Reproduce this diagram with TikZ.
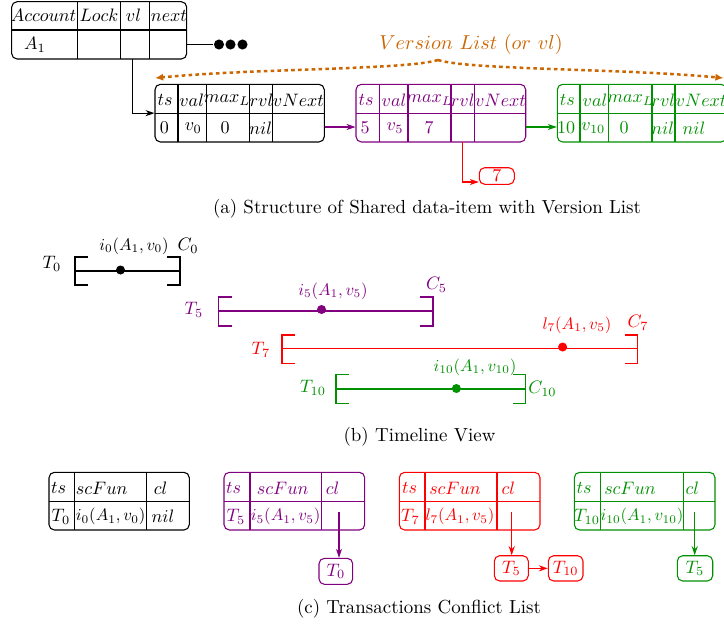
\documentclass[tikz,border=0pt]{standalone}
\usetikzlibrary{arrows.meta,fit}
\definecolor{cvio}{RGB}{128,0,128}
\definecolor{cgrn}{RGB}{0,145,0}
\definecolor{corg}{RGB}{204,102,0}
\begin{document}
\begin{tikzpicture}[x=0.555pt,y=-0.555pt,line width=0.6pt,
  tbox/.style={draw,rounded corners=3pt,inner sep=0pt},
  ct/.style={inner sep=0pt},
  fnl/.style={scale=0.93},
  capn/.style={scale=1.05},
  arr/.style={-{Stealth[length=5pt,width=3.4pt]}},
  dotn/.style={circle,fill,inner sep=0pt,minimum size=5.6pt},
  tdot/.style={circle,fill,inner sep=0pt,minimum size=5pt},
  vlarrow/.style={corg,line width=1.4pt,dash pattern=on 2pt off 1.8pt,-{Latex[length=4.5pt,width=4pt]}}]
\useasboundingbox (0,0) rectangle (724,629);

% ---------------- (a) ----------------
\node[tbox,fit={(11.7,1.7)(186.7,59)}] (acct) {};
\draw (11.7,30) -- (186.7,30);
\foreach \x in {77.3,120.7,149.3} \draw (\x,1.7) -- (\x,59);
\node[ct] (hacc) at (43.5,15.7) {$Account$};
\node[ct] (hlock) at (99,15.7) {$Lock$};
\node[ct] (hvl) at (133.5,15.7) {$vl$};
\node[ct] (hnext) at (169,15.7) {$next$};
\node[ct] (va1) at (35,45) {$A_1$};

\node[dotn] (d1) at (219,44.5) {};
\node[dotn] (d2) at (230.5,44.5) {};
\node[dotn] (d3) at (242.5,44.5) {};
\draw (acct.east |- d1) -- (d1);

% version boxes
\node[tbox,fit={(155,84.3)(324.3,142)}] (vb1) {};
\draw (155,113.3) -- (324.3,113.3);
\foreach \x in {178,206.7,249.7,272.7} \draw (\x,84.3) -- (\x,142);
\node[ct] (a1) at (165,100) {$ts$};
\node[ct] (a2) at (191.7,100) {$val$};
\node[ct] (a3) at (227,100) {$max_L$};
\node[ct] (a4) at (261.5,100) {$rvl$};
\node[ct] (a5) at (298.5,100) {$vNext$};
\node[ct] (a6) at (164.3,128) {$0$};
\node[ct] (a7) at (193.3,128) {$v_0$};
\node[ct] (a8) at (225,128) {$0$};
\node[ct] (a9) at (260.7,128) {$nil$};

\begin{scope}[cvio]
\node[tbox,fit={(356,84.3)(525.7,142)}] (vb2) {};
\draw (356,113.3) -- (525.7,113.3);
\foreach \x in {379.3,408,451,474.3} \draw (\x,84.3) -- (\x,142);
\node[ct] (b1) at (366,100) {$ts$};
\node[ct] (b2) at (394,100) {$val$};
\node[ct] (b3) at (429.5,100) {$max_L$};
\node[ct] (b4) at (462.7,100) {$rvl$};
\node[ct] (b5) at (500.5,100) {$vNext$};
\node[ct] (b6) at (365,128) {$5$};
\node[ct] (b7) at (395,128) {$v_5$};
\node[ct] (b8) at (429,128) {$7$};
\end{scope}

\begin{scope}[cgrn]
\node[tbox,fit={(557.3,84.3)(726.5,142)}] (vb3) {};
\draw (557.3,113.3) -- (726.5,113.3);
\foreach \x in {580,608.7,652,675} \draw (\x,84.3) -- (\x,142);
\node[ct] (c1) at (567.3,100) {$ts$};
\node[ct] (c2) at (595,100) {$val$};
\node[ct] (c3) at (630.5,100) {$max_L$};
\node[ct] (c4) at (663.3,100) {$rvl$};
\node[ct] (c5) at (701,100) {$vNext$};
\node[ct] (c6) at (566,128) {$10$};
\node[ct] (c7) at (593.3,128) {$v_{10}$};
\node[ct] (c8) at (624,128) {$0$};
\node[ct] (c9) at (662.7,128) {$nil$};
\node[ct] (c10) at (694,128) {$nil$};
\end{scope}

\coordinate (vlout) at (132.3,59);
\draw[arr] (vlout) |- (vb1.west);
\coordinate (r1) at (0,127);
\draw[arr,cvio] (vb1.east |- r1) -- (vb2.west |- r1);
\draw[arr,cgrn] (vb2.east |- r1) -- (vb3.west |- r1);

\node[tbox,red,fit={(479.3,167.7)(514.3,184.3)}] (seven) {};
\node[ct,red] (seventxt) at (seven) {$7$};
\coordinate (rvlout) at (462.7,142);
\coordinate (r7) at (0,182);
\draw[arr,red] (rvlout) |- (seven.west |- r7);

\coordinate (peak) at (438,60);
\coordinate (vlL) at (155,78);
\coordinate (vlR) at (723.5,78);
\draw[vlarrow] (peak) .. controls (405,70) and (260,68) .. (vlL);
\draw[vlarrow] (peak) .. controls (470,70) and (615,68) .. (vlR);
\node[text=corg,scale=1.12] (vltext) at (471,44) {$Version\ List\ (or\ vl)$};

\node[capn] (capa) at (427,209) {(a) Structure of Shared data-item with Version List};

% ---------------- (b) ----------------
\draw (88,257) -- (75,257) -- (75,285) -- (88,285);
\draw (75,271) -- (180,271);
\draw (167,257) -- (180,257) -- (180,285) -- (167,285);
\node[tdot] (dt0) at (120.5,270) {};
\node (lt0) at (52,264) {$T_0$};
\node[fnl] (li0) at (134,246) {$i_0(A_1,v_0)$};
\node (lc0) at (188,246) {$C_0$};

\begin{scope}[cvio]
\draw (231.5,297) -- (218.5,297) -- (218.5,326) -- (231.5,326);
\draw (218.5,311) -- (433,311);
\draw (420,297) -- (433,297) -- (433,326) -- (420,326);
\node[tdot] (dt5) at (321.5,309.5) {};
\node (lt5) at (194,310) {$T_5$};
\node[fnl] (li5) at (333,291) {$i_5(A_1,v_5)$};
\node (lc5) at (436.5,285) {$C_5$};
\end{scope}

\begin{scope}[red]
\draw (295,335) -- (282,335) -- (282,363.5) -- (295,363.5);
\draw (282,348.5) -- (637.5,348.5);
\draw (624.5,335) -- (637.5,335) -- (637.5,363.5) -- (624.5,363.5);
\node[tdot] (dt7) at (562.6,347) {};
\node (lt7) at (261,350) {$T_7$};
\node[fnl] (ll7) at (577,325) {$l_7(A_1,v_5)$};
\node (lc7) at (638,323) {$C_7$};
\end{scope}

\begin{scope}[cgrn]
\draw (349,374.5) -- (336,374.5) -- (336,403.5) -- (349,403.5);
\draw (336,389) -- (525.6,389);
\draw (512.6,374.5) -- (525.6,374.5) -- (525.6,403.5) -- (512.6,403.5);
\node[tdot] (dt10) at (456.4,388.5) {};
\node (lt10) at (313,388) {$T_{10}$};
\node[fnl] (li10) at (475,367) {$i_{10}(A_1,v_{10})$};
\node (lc10) at (542.5,389) {$C_{10}$};
\end{scope}

\node[capn] (capb) at (419.5,437) {(b) Timeline View};

% ---------------- (c) ----------------
\node[tbox,fit={(49,472.3)(189.3,530)}] (tc0) {};
\draw (49,501.3) -- (189.3,501.3);
\foreach \x in {74.3,146.7} \draw (\x,472.3) -- (\x,530);
\node[ct] (e1) at (58.5,488.3) {$ts$};
\node[ct] (e2) at (101.7,488.3) {$scFun$};
\node[ct] (e3) at (160.7,488.3) {$cl$};
\node[ct] (e4) at (61,516.7) {$T_0$};
\node[ct,fnl] (e5) at (110.7,516.7) {$i_0(A_1,v_0)$};
\node[ct] (e6) at (163,516.7) {$nil$};

\begin{scope}[cvio]
\node[tbox,fit={(224,472.3)(364.7,530)}] (tc5) {};
\draw (224,501.3) -- (364.7,501.3);
\foreach \x in {250,321.7} \draw (\x,472.3) -- (\x,530);
\node[ct] (f1) at (233.5,488.3) {$ts$};
\node[ct] (f2) at (282.7,488.3) {$scFun$};
\node[ct] (f3) at (332.7,488.3) {$cl$};
\node[ct] (f4) at (236,516.7) {$T_5$};
\node[ct,fnl] (f5) at (285.7,516.7) {$i_5(A_1,v_5)$};
\node[tbox,fit={(319,558.3)(352.7,584.3)}] (k50) {};
\node[ct] (k50t) at (k50) {$T_0$};
\coordinate (cl5) at (339,511.7);
\draw[arr] (cl5) -- (cl5 |- k50.north);
\end{scope}

\begin{scope}[red]
\node[tbox,fit={(399.3,472.3)(540,530)}] (tc7) {};
\draw (399.3,501.3) -- (540,501.3);
\foreach \x in {425,497} \draw (\x,472.3) -- (\x,530);
\node[ct] (g1) at (409.5,488.3) {$ts$};
\node[ct] (g2) at (455,488.3) {$scFun$};
\node[ct] (g3) at (508.3,488.3) {$cl$};
\node[ct] (g4) at (410.5,516.7) {$T_7$};
\node[ct,fnl] (g5) at (460,516.7) {$l_7(A_1,v_5)$};
\node[tbox,fit={(494.3,555.7)(528.3,581)}] (k75) {};
\node[ct] (k75t) at (k75) {$T_5$};
\node[tbox,fit={(548.3,555.7)(583,581)}] (k710) {};
\node[ct] (k710t) at (k710) {$T_{10}$};
\coordinate (cl7) at (511.7,511.7);
\draw[arr] (cl7) -- (cl7 |- k75.north);
\draw[arr] (k75.east) -- (k710.west);
\end{scope}

\begin{scope}[cgrn]
\node[tbox,fit={(574.3,472.3)(715,530)}] (tc10) {};
\draw (574.3,501.3) -- (715,501.3);
\foreach \x in {600.3,683.7} \draw (\x,472.3) -- (\x,530);
\node[ct] (h1) at (584,488.3) {$ts$};
\node[ct] (h2) at (630,488.3) {$scFun$};
\node[ct] (h3) at (692.3,488.3) {$cl$};
\node[ct] (h4) at (587,516.7) {$T_{10}$};
\node[ct,fnl] (h5) at (642,516.7) {$i_{10}(A_1,v_{10})$};
\node[tbox,fit={(677.3,555.7)(712.7,581)}] (k105) {};
\node[ct] (k105t) at (k105) {$T_5$};
\coordinate (cl10) at (694.7,511.7);
\draw[arr] (cl10) -- (cl10 |- k105.north);
\end{scope}

\node[capn] (capc) at (419,609) {(c) Transactions Conflict List};
\end{tikzpicture}
\end{document}
